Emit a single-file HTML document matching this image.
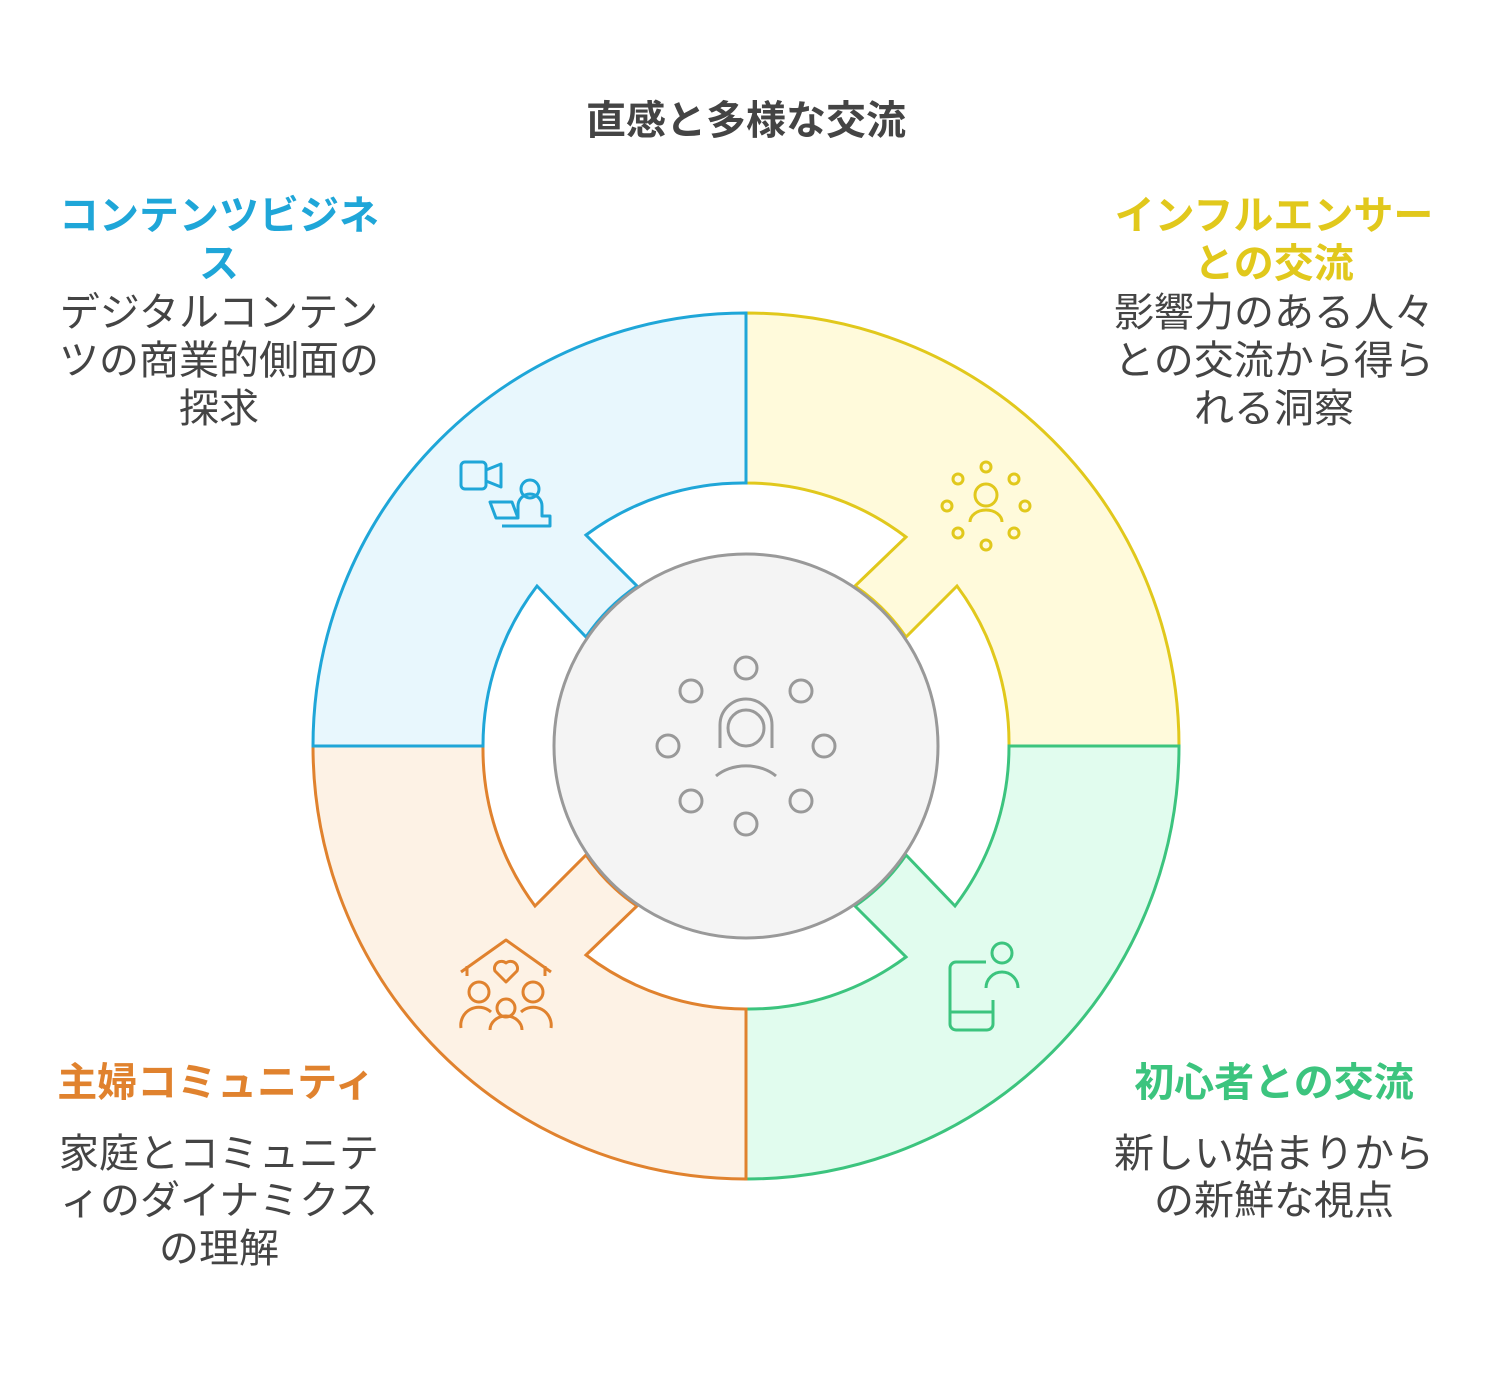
<!DOCTYPE html>
<html><head><meta charset="utf-8"><style>
body{margin:0;background:#fff;}
svg text{font-family:"Liberation Sans","Noto Sans CJK JP",sans-serif;}
</style></head><body>
<svg width="1492" height="1372" viewBox="0 0 1492 1372" xmlns="http://www.w3.org/2000/svg">
<defs>
<path id="seg" d="M746,313 A433,433 0 0 1 1179,746 L1009,746 A263,263 0 0 0 957,586 L906,637 A193,193 0 0 0 855,586 L906,537 A263,263 0 0 0 746,483 Z"/>
</defs>
<use href="#seg" fill="#fffadb" stroke="#e1c81c" stroke-width="3"/>
<use href="#seg" transform="rotate(90 746 746)" fill="#e1fcee" stroke="#3cc47e" stroke-width="3"/>
<use href="#seg" transform="rotate(180 746 746)" fill="#fdf2e5" stroke="#e0822e" stroke-width="3"/>
<use href="#seg" transform="rotate(270 746 746)" fill="#e8f7fd" stroke="#1fa6d8" stroke-width="3"/>
<circle cx="746" cy="746" r="192" fill="#f4f4f4" stroke="#999" stroke-width="3"/>
<g fill="none" stroke="#999" stroke-width="3">
<circle cx="746" cy="668" r="11"/><circle cx="801" cy="691" r="11"/><circle cx="824" cy="746" r="11"/><circle cx="801" cy="801" r="11"/>
<circle cx="746" cy="824" r="11"/><circle cx="691" cy="801" r="11"/><circle cx="668" cy="746" r="11"/><circle cx="691" cy="691" r="11"/>
<path d="M720,748 V725 a26,26 0 0 1 52,0 V748"/><circle cx="746" cy="728" r="18"/><path d="M716,776 a40,30 0 0 1 60,0"/>
</g>
<g fill="none" stroke="#e1c81c" stroke-width="3">
<circle cx="986" cy="467" r="5"/><circle cx="1014" cy="479" r="5"/><circle cx="1025" cy="506" r="5"/><circle cx="1014" cy="533" r="5"/>
<circle cx="986" cy="545" r="5"/><circle cx="958" cy="533" r="5"/><circle cx="947" cy="506" r="5"/><circle cx="958" cy="479" r="5"/>
<circle cx="986" cy="495" r="11"/><path d="M970,522 a16,12 0 0 1 32,0"/>
</g>
<g fill="none" stroke="#1fa6d8" stroke-width="3" stroke-linejoin="round">
<rect x="461" y="462" width="25" height="27" rx="4"/><path d="M486,470 l15,-6 v23 l-15,-6"/>
<circle cx="530" cy="489" r="9"/><path d="M490,502 h22 l6,16 h-22z"/><path d="M518,518 v-12 a12,12 0 0 1 24,0 v10 h8 v10 h-48"/>
</g>
<g fill="none" stroke="#3cc47e" stroke-width="3" stroke-linejoin="round">
<circle cx="1002" cy="953" r="10"/><path d="M986,988 a16,16 0 0 1 32,0"/>
<path d="M986,962 h-30 a6,6 0 0 0 -6,6 v56 a6,6 0 0 0 6,6 h31 a6,6 0 0 0 6,-6 v-24"/><path d="M950,1012 h42"/>
</g>
<g fill="none" stroke="#e0822e" stroke-width="3" stroke-linejoin="round">
<path d="M461,972 l45,-32 l45,32"/><path d="M467,966 v10 M545,966 v10"/>
<path d="M506,982 l-11,-11 a7,7 0 0 1 11,-8 a7,7 0 0 1 11,8z"/>
<circle cx="479" cy="992" r="10"/><circle cx="533" cy="992" r="10"/><circle cx="506" cy="1008" r="9"/>
<path d="M461,1028 a18,18 0 0 1 30,-16 M551,1028 a18,18 0 0 0 -30,-16 M490,1030 a16,14 0 0 1 32,0"/>
</g>
<g font-size="40">
<text x="746" y="134" text-anchor="middle" font-weight="bold" fill="#444">直感と多様な交流</text>
<g font-weight="bold" fill="#1fa6d8" text-anchor="middle"><text x="219" y="229">コンテンツビジネ</text><text x="219" y="277">ス</text></g>
<g fill="#444" text-anchor="middle"><text x="219" y="326">デジタルコンテン</text><text x="219" y="374">ツの商業的側面の</text><text x="219" y="422">探求</text></g>
<g font-weight="bold" fill="#e1c81c" text-anchor="middle"><text x="1274" y="229">インフルエンサー</text><text x="1274" y="277">との交流</text></g>
<g fill="#444" text-anchor="middle"><text x="1274" y="326">影響力のある人々</text><text x="1274" y="374">との交流から得ら</text><text x="1274" y="422">れる洞察</text></g>
<text x="216" y="1096" text-anchor="middle" font-weight="bold" fill="#e0822e">主婦コミュニティ</text>
<g fill="#444" text-anchor="middle"><text x="219" y="1167">家庭とコミュニテ</text><text x="219" y="1214">ィのダイナミクス</text><text x="219" y="1262">の理解</text></g>
<text x="1274" y="1096" text-anchor="middle" font-weight="bold" fill="#3cc47e">初心者との交流</text>
<g fill="#444" text-anchor="middle"><text x="1274" y="1167">新しい始まりから</text><text x="1274" y="1214">の新鮮な視点</text></g>
</g>
</svg>
</body></html>
